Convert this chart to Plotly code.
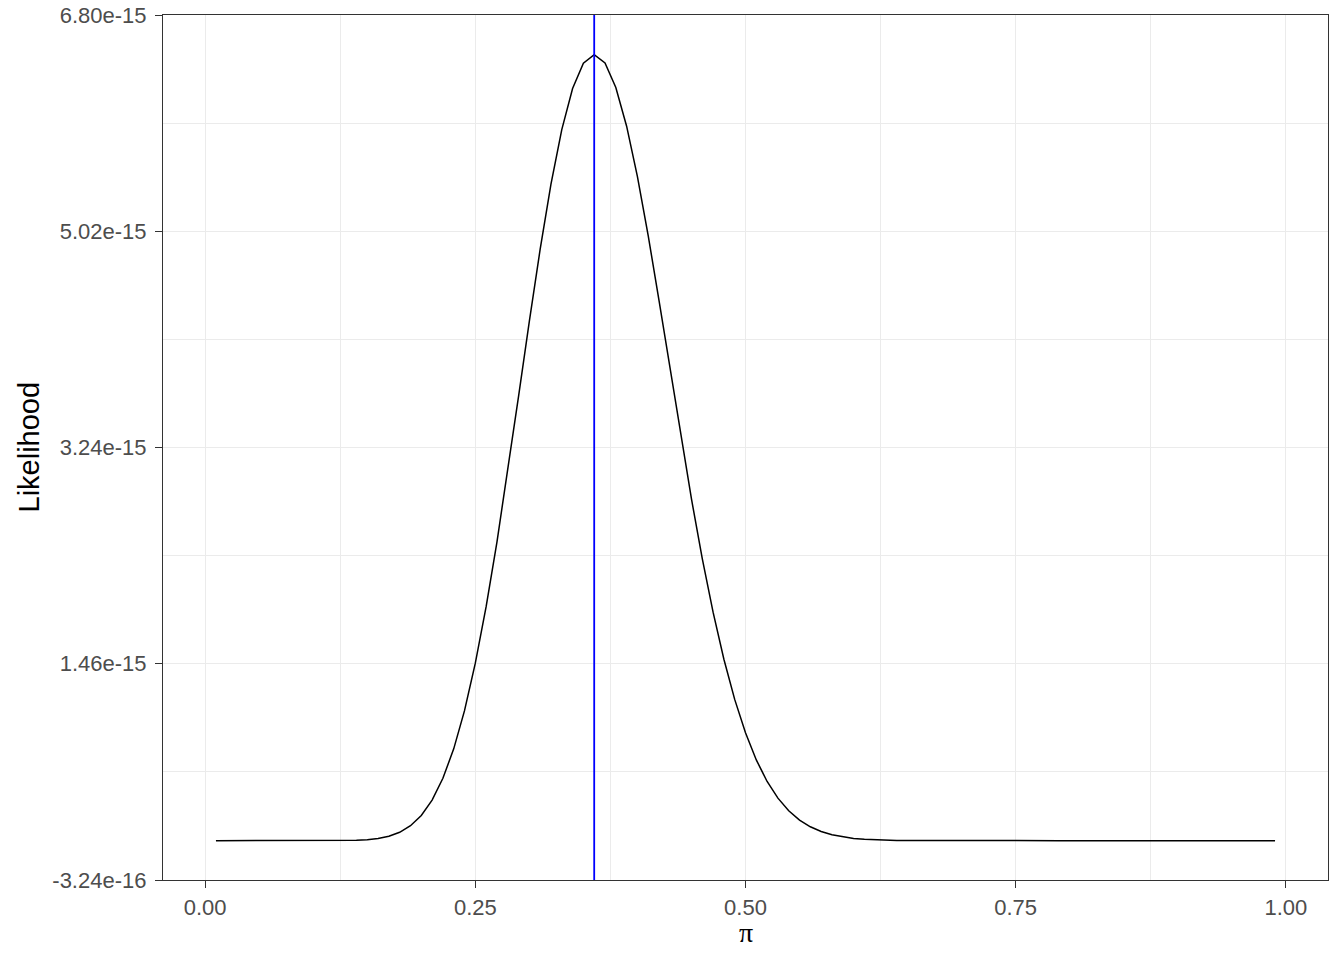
import plotly.graph_objects as go

# grid of pi values
pi_values = [
    0.01, 0.02, 0.03, 0.04, 0.05, 0.06, 0.07, 0.08, 0.09, 0.10,
    0.11, 0.12, 0.13, 0.14, 0.15, 0.16, 0.17, 0.18, 0.19, 0.20,
    0.21, 0.22, 0.23, 0.24, 0.25, 0.26, 0.27, 0.28, 0.29, 0.30,
    0.31, 0.32, 0.33, 0.34, 0.35, 0.36, 0.37, 0.38, 0.39, 0.40,
    0.41, 0.42, 0.43, 0.44, 0.45, 0.46, 0.47, 0.48, 0.49, 0.50,
    0.51, 0.52, 0.53, 0.54, 0.55, 0.56, 0.57, 0.58, 0.59, 0.60,
    0.61, 0.62, 0.63, 0.64, 0.65, 0.66, 0.67, 0.68, 0.69, 0.70,
    0.71, 0.72, 0.73, 0.74, 0.75, 0.76, 0.77, 0.78, 0.79, 0.80,
    0.81, 0.82, 0.83, 0.84, 0.85, 0.86, 0.87, 0.88, 0.89, 0.90,
    0.91, 0.92, 0.93, 0.94, 0.95, 0.96, 0.97, 0.98, 0.99,
]

# likelihood, in units of 1e-15
likelihood_e15 = [
    0.0, 0.0, 0.0, 0.0, 0.0, 0.0, 0.0, 0.0, 0.0, 0.0,
    0.0001, 0.0004, 0.0013, 0.0034, 0.0082, 0.0178, 0.0362, 0.0687, 0.1227, 0.2076,
    0.3343, 0.5136, 0.7562, 1.0708, 1.4618, 1.9273, 2.4595, 3.0441, 3.6598, 4.2787,
    4.8710, 5.4071, 5.8564, 6.1943, 6.4034, 6.4740, 6.4047, 6.2027, 5.8842, 5.4692,
    4.9811, 4.4476, 3.8941, 3.3432, 2.8143, 2.3235, 1.8820, 1.4942, 1.1634, 0.8882,
    0.6649, 0.4872, 0.3500, 0.2462, 0.1696, 0.1143, 0.0753, 0.0485, 0.0305, 0.0187,
    0.0112, 0.0065, 0.0037, 0.0020, 0.0011, 0.0006, 0.0003, 0.0001, 0.0, 0.0,
    0.0, 0.0, 0.0, 0.0, 0.0, 0.0, 0.0, 0.0, 0.0, 0.0,
    0.0, 0.0, 0.0, 0.0, 0.0, 0.0, 0.0, 0.0, 0.0, 0.0,
    0.0, 0.0, 0.0, 0.0, 0.0, 0.0, 0.0, 0.0, 0.0,
]

mle = 0.36

x_ticks = [0.0, 0.25, 0.50, 0.75, 1.00]
x_ticklabels = ["0.00", "0.25", "0.50", "0.75", "1.00"]
x_minor = [0.125, 0.375, 0.625, 0.875]

y_ticks = [-3.24e-16, 1.46e-15, 3.24e-15, 5.02e-15, 6.80e-15]
y_ticklabels = ["-3.24e-16", "1.46e-15", "3.24e-15", "5.02e-15", "6.80e-15"]
y_minor = [0.568e-15, 2.35e-15, 4.13e-15, 5.91e-15]

likelihood = [v * 1e-15 for v in likelihood_e15]

font_family = "Liberation Sans, Arial, sans-serif"
grid_col = "#EBEBEB"
axis_col = "#333333"

fig = go.Figure()
fig.add_trace(go.Scatter(x=pi_values, y=likelihood, mode="lines",
                         line=dict(color="black", width=1.5), showlegend=False))

# vertical line at the maximum
fig.add_shape(type="line", x0=mle, x1=mle, y0=0, y1=1, yref="paper",
              line=dict(color="#0000FF", width=1.8), layer="above")

axis_common = dict(
    showline=True, linecolor=axis_col, linewidth=1.2, mirror=True,
    ticks="outside", ticklen=7, tickwidth=1.2, tickcolor=axis_col,
    showgrid=True, gridcolor=grid_col, gridwidth=1.3,
    zeroline=False,
    tickfont=dict(family=font_family, size=22, color="#4D4D4D"),
    tickmode="array",
    ticklabeloverflow="allow",
)

fig.update_xaxes(
    range=[-0.039, 1.039], tickvals=x_ticks, ticktext=x_ticklabels,
    minor=dict(tickvals=x_minor, showgrid=True, gridcolor=grid_col, gridwidth=0.7, ticklen=0),
    ticklabelstandoff=0,
    **axis_common,
)
fig.update_yaxes(
    range=[-3.24e-16, 6.80e-15], tickvals=y_ticks, ticktext=y_ticklabels,
    minor=dict(tickvals=y_minor, showgrid=True, gridcolor=grid_col, gridwidth=0.7, ticklen=0),
    ticklabelstandoff=4,
    **axis_common,
)

fig.update_layout(
    width=1344, height=960,
    margin=dict(l=163, r=16, t=15, b=80, autoexpand=False),
    plot_bgcolor="white", paper_bgcolor="white",
    font=dict(family=font_family),
    annotations=[
        dict(text="Likelihood", xref="paper", yref="paper", x=0, y=0.5,
             xshift=-135, textangle=-90, showarrow=False,
             font=dict(family=font_family, size=29, color="black"),
             xanchor="center", yanchor="middle"),
        dict(text="π", xref="paper", yref="paper", x=(0.5 + 0.039) / 1.078, y=0,
             yshift=-52, showarrow=False,
             font=dict(family="Liberation Serif, serif", size=28, color="black"),
             xanchor="center", yanchor="middle"),
    ],
)

# drop the default page margin so the figure sits at the top-left corner
fig.write_html("out.html", config={"displayModeBar": False},
               post_script="document.body.style.margin='0';")
